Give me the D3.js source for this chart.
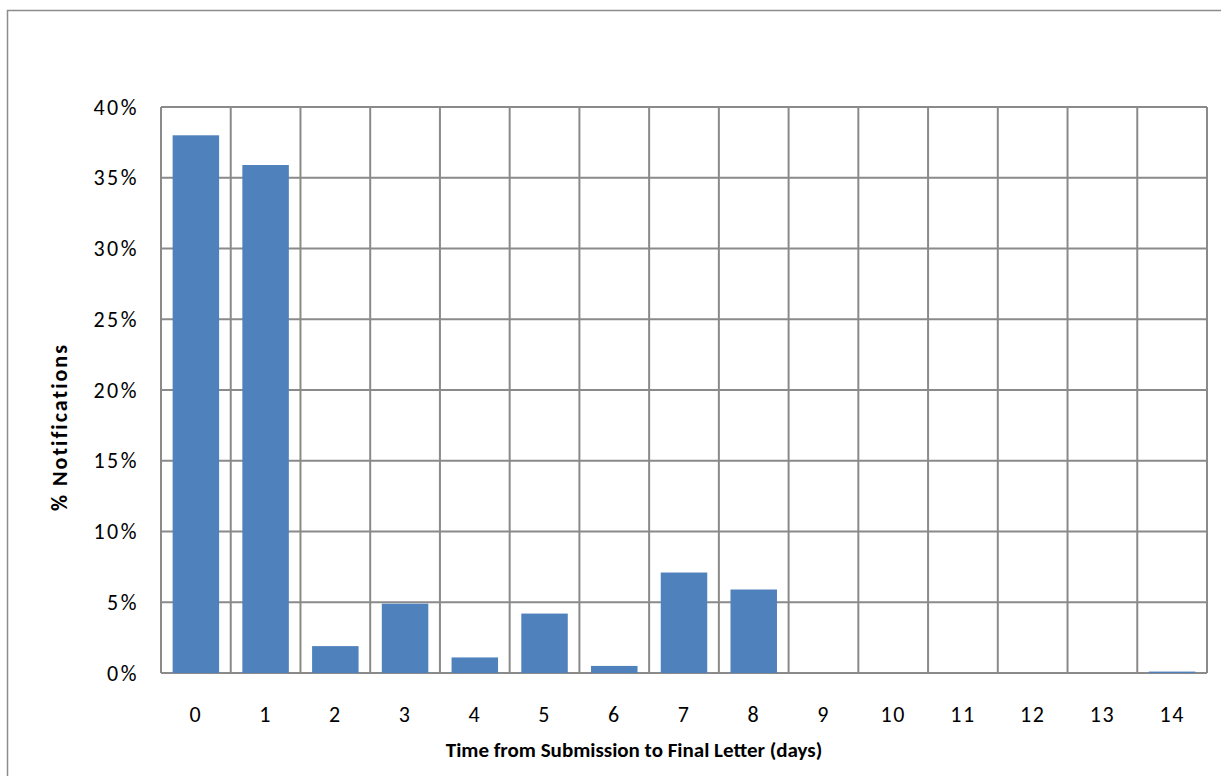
<!DOCTYPE html>
<html>
<head>
<meta charset="utf-8">
<script src="https://cdn.jsdelivr.net/npm/d3@7"></script>
<style>
  html, body { margin: 0; padding: 0; background: #ffffff; }
  svg { display: block; font-family: Carlito, Calibri, Lato, "Liberation Sans", sans-serif; }
</style>
</head>
<body>
<svg id="chart" width="1221" height="776"></svg>
<script>
// Days from submission to final letter, and share of notifications (%)
const days = ["0", "1", "2", "3", "4", "5", "6", "7", "8", "9", "10", "11", "12", "13", "14"];
const shares = [38.0, 35.9, 1.9, 4.9, 1.1, 4.2, 0.5, 7.1, 5.9, 0, 0, 0, 0, 0, 0.1];
const yTicks = [0, 5, 10, 15, 20, 25, 30, 35, 40];

const xTitle = "Time from Submission to Final Letter (days)";
const yTitle = "% Notifications";

const svg = d3.select("#chart");
const W = 1221, H = 776;
const plot = { left: 161, top: 107, right: 1207, bottom: 673 };

const gridColor = "#8a8a8a";
const barColor = "#4f81bd";
const fontStack = "Carlito, Calibri, Lato, 'Liberation Sans', sans-serif";

// outer chart frame
svg.append("rect")
  .attr("x", 7.5).attr("y", 10.5)
  .attr("width", W).attr("height", H)
  .attr("fill", "#ffffff")
  .attr("stroke", "#8c8c8c").attr("stroke-width", 1.5);

const x = d3.scaleBand()
  .domain(days)
  .range([plot.left, plot.right])
  .paddingInner(1 / 3)
  .paddingOuter(1 / 6);

const y = d3.scaleLinear()
  .domain([0, 40])
  .range([plot.bottom, plot.top]);

// horizontal gridlines
svg.append("g")
  .selectAll("line")
  .data(yTicks)
  .join("line")
  .attr("x1", plot.left).attr("x2", plot.right)
  .attr("y1", d => y(d)).attr("y2", d => y(d))
  .attr("stroke", gridColor).attr("stroke-width", 2);

// vertical gridlines at category boundaries
const step = x.step();
const bounds = d3.range(days.length + 1).map(i => plot.left + i * step);
svg.append("g")
  .selectAll("line")
  .data(bounds)
  .join("line")
  .attr("x1", d => d).attr("x2", d => d)
  .attr("y1", plot.top).attr("y2", plot.bottom)
  .attr("stroke", gridColor).attr("stroke-width", 2);

// bars
svg.append("g")
  .selectAll("rect")
  .data(days.map((d, i) => ({ day: d, v: shares[i] })))
  .join("rect")
  .attr("x", d => x(d.day))
  .attr("width", x.bandwidth())
  .attr("y", d => y(d.v))
  .attr("height", d => y(0) - y(d.v))
  .attr("fill", barColor);

// y axis tick labels
const yAxis = d3.axisLeft(y)
  .tickValues(yTicks)
  .tickFormat(d => d + "%")
  .tickSize(0)
  .tickPadding(22);
const gy = svg.append("g")
  .attr("transform", `translate(${plot.left},0)`)
  .call(yAxis);
gy.select(".domain").remove();
gy.selectAll("text")
  .attr("font-size", 22)
  .attr("letter-spacing", 2.5)
  .attr("font-family", fontStack)
  .attr("fill", "#000");

// x axis tick labels
const xAxis = d3.axisBottom(x).tickSize(0).tickPadding(33);
const gx = svg.append("g")
  .attr("transform", `translate(0,${plot.bottom})`)
  .call(xAxis);
gx.select(".domain").remove();
gx.selectAll("text")
  .attr("font-size", 22)
  .attr("letter-spacing", 1.5)
  .attr("font-family", fontStack)
  .attr("fill", "#000");

// axis titles
svg.append("text")
  .attr("x", 634)
  .attr("y", 757)
  .attr("text-anchor", "middle")
  .attr("font-size", 21)
  .attr("font-weight", "bold")
  .attr("font-family", fontStack)
  .text(xTitle);

svg.append("text")
  .attr("transform", `translate(67,427) rotate(-90)`)
  .attr("text-anchor", "middle")
  .attr("font-size", 22)
  .attr("letter-spacing", 2)
  .attr("font-weight", "bold")
  .attr("font-family", fontStack)
  .text(yTitle);
</script>
</body>
</html>
